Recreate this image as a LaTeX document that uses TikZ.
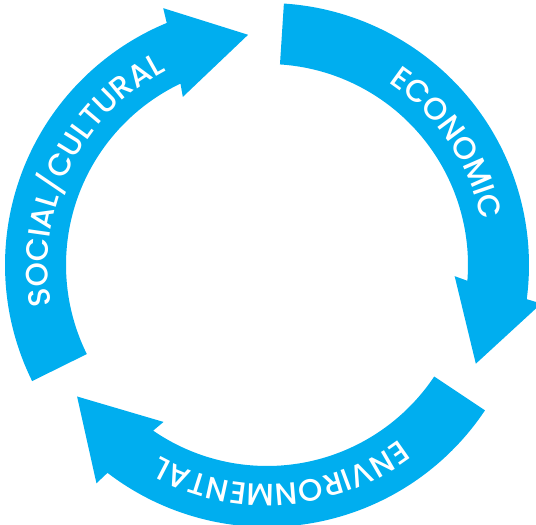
\documentclass[tikz,border=0pt]{standalone}
\usepackage{fontspec}
\usepackage{tikz}
\usetikzlibrary{decorations.text}
\newfontfamily\labelfont{Poppins Medium}
\definecolor{cycleblue}{RGB}{0,174,239}

\tikzset{
  cyclearrow/.style={fill=cycleblue},
  cyclelabel/.style={decorate, decoration={text along path, text align=center,
      text color=white, text={|\labelfont\fontsize{31}{31}\selectfont|#1}}}
}

\begin{document}
\begin{tikzpicture}[x=1pt, y=1pt]
      \useasboundingbox (-267,-260) rectangle (269,265);
      \foreach \r in {0,-120,-240}{
        \begin{scope}[rotate=\r]
          \fill[cyclearrow] (206.3:262) arc[start angle=206.3, end angle=112.5, radius=262]
            -- (112:277) -- (94.7:231) -- (116.6:188) -- (115.5:201)
            arc[start angle=115.5, end angle=206.3, radius=201] -- cycle;
        \end{scope}
      }
      \path[cyclelabel=SOCIAL/CULTURAL] (194:219) arc[start angle=194, end angle=114, radius=219];
      \path[cyclelabel=ECONOMIC] (74:219) arc[start angle=74, end angle=-6, radius=219];
      \path[cyclelabel=ENVIRONMENTAL] (-46:219) arc[start angle=-46, end angle=-126, radius=219];
    \end{tikzpicture}
\end{document}
